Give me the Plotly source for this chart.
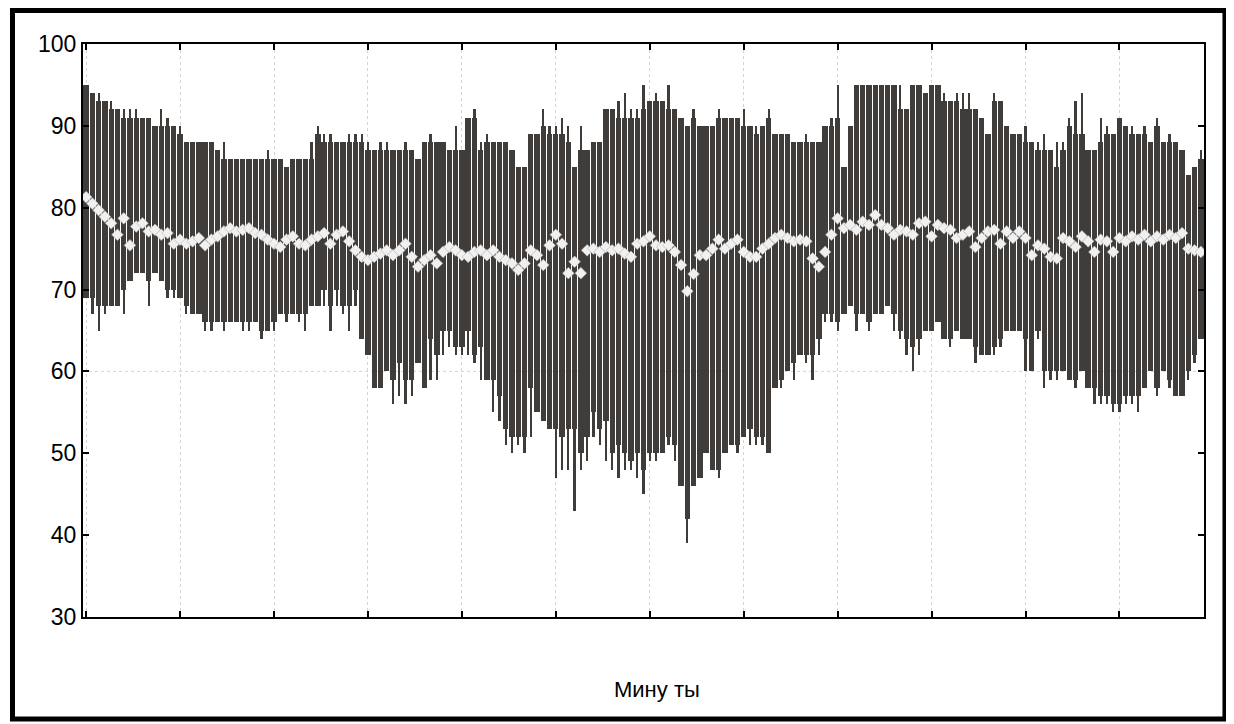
import plotly.graph_objects as go

# ---- data ----
box_high = [95,94,93,93,92,92,91,91,91,91,91,90,90,90,90,89,88,88,88,88,88,87,86,86,86,86,86,86,86,86,
            86,86,85,86,86,86,86,89,88,88,88,88,88,88,88,87,87,87,87,87,87,87,87,86,88,88,88,88,87,87,
            87,91,91,87,88,88,88,88,87,85,85,89,89,90,89,89,89,88,85,87,87,88,88,92,92,91,91,91,91,92,
            93,93,93,92,92,91,90,91,90,90,90,91,91,91,91,90,90,89,90,91,89,89,89,88,88,88,88,88,90,90,
            91,85,90,95,95,95,95,95,95,95,92,92,95,95,94,95,95,93,93,93,92,92,92,91,89,93,93,90,89,89,
            88,88,87,87,87,85,87,90,89,89,87,87,88,89,89,91,90,89,89,89,88,90,88,88,88,87,84,85,86]
whisker_high = [95,94,94,93,93,92,92,92,92,91,91,90,92,91,90,90,88,88,88,88,88,87,88,86,86,86,86,86,86,87,
                86,86,85,86,86,86,88,90,89,89,88,88,89,89,89,88,87,88,88,87,87,88,87,86,88,89,88,88,87,90,
                87,91,92,88,89,88,88,88,87,85,85,89,89,92,90,90,91,90,85,90,87,88,88,92,92,93,94,92,92,95,
                93,94,93,95,92,91,90,92,90,90,90,92,91,91,91,92,90,90,90,92,89,89,89,88,88,89,88,88,90,91,
                95,85,90,95,95,95,95,95,95,95,95,92,95,95,94,95,95,94,93,94,94,94,92,91,89,94,93,90,89,89,
                90,88,88,89,87,88,88,91,93,94,87,87,91,90,89,91,90,90,89,90,88,91,88,89,88,87,84,85,87]
box_low = [69,69,68,68,68,68,70,71,72,72,71,72,71,70,70,69,68,67,67,66,66,66,66,66,66,66,66,66,65,65,
           66,67,67,67,67,67,68,68,70,68,70,68,68,70,64,62,58,58,60,59,61,59,59,61,58,64,62,65,65,63,
           63,65,62,63,59,59,57,53,52,52,52,58,55,54,53,53,52,53,53,50,52,55,53,54,50,51,50,49,50,48,
           50,50,50,52,51,46,42,46,47,50,48,48,50,51,51,52,53,52,52,50,58,59,60,61,62,62,62,64,67,67,
           66,67,68,67,67,66,67,67,68,67,65,64,63,64,65,65,66,64,64,65,64,64,63,62,62,63,64,65,65,65,
           64,60,65,60,60,60,60,59,59,60,58,58,57,57,56,56,57,57,57,58,60,58,60,59,57,57,60,62,64]
whisker_low = [69,67,65,67,68,68,67,71,72,72,68,72,71,69,69,69,67,67,67,65,65,66,65,66,66,65,65,66,64,65,
               65,67,66,67,66,65,68,68,68,65,68,67,65,68,64,62,58,58,60,56,57,56,57,61,58,59,59,62,63,62,
               62,62,61,59,59,55,54,51,50,51,50,52,55,54,53,47,48,48,43,48,49,52,51,49,48,47,48,48,47,45,
               49,49,50,51,49,46,39,46,47,50,48,47,50,51,50,52,51,51,51,50,58,58,60,59,62,61,59,62,66,66,
               65,67,68,65,67,65,67,67,68,65,64,62,60,62,65,65,66,64,63,65,64,64,61,62,62,62,63,65,65,65,
               60,60,64,58,59,59,60,59,58,60,58,56,56,56,55,55,56,56,55,58,60,57,60,58,57,57,59,61,64]
mean = [81.3,80.5,79.7,78.9,78.1,76.7,78.7,75.4,77.7,78.1,77.1,77.3,76.7,76.9,75.6,76.1,75.6,75.9,76.3,75.4,
        76.1,76.5,77.1,77.5,77.1,77.3,77.5,76.9,76.7,76.1,75.6,75.2,76.1,76.5,75.6,75.4,76.1,76.5,76.9,75.6,
        76.7,77.1,75.9,74.8,74.0,73.6,74.0,74.4,74.8,74.2,74.8,75.6,74.0,72.8,73.6,74.2,73.2,74.6,75.2,74.8,
        74.2,74.0,74.6,74.8,74.2,74.8,74.0,73.6,73.2,72.4,73.2,74.8,74.2,73.0,75.4,76.7,75.6,72.0,73.4,72.0,
        74.8,75.0,74.6,75.2,74.8,75.0,74.4,74.0,75.6,75.9,76.5,75.4,75.2,75.4,74.6,73.0,69.8,71.9,74.2,74.2,
        75.0,76.1,75.0,75.6,76.1,74.6,74.0,74.0,75.0,75.6,76.3,76.7,76.3,75.9,76.1,75.9,73.8,72.8,74.6,76.7,
        78.7,77.5,77.9,77.3,78.3,77.9,79.1,77.9,77.5,76.7,77.3,77.1,76.7,78.1,78.3,76.5,77.9,77.5,77.3,76.3,
        76.7,77.1,75.2,76.3,77.1,77.3,75.6,77.1,76.3,77.1,76.3,74.2,75.4,75.0,74.0,73.8,76.3,75.9,75.2,76.5,
        75.9,74.6,76.1,75.9,74.6,76.3,75.9,76.5,76.1,76.7,75.9,76.5,76.1,76.7,76.3,76.9,75.0,74.8,74.6]
minutes = list(range(len(mean)))
x_tick_vals = list(range(0, 166, 15))
y_tick_vals = [30, 40, 50, 60, 70, 80, 90, 100]
visible_hgrid = 60
x_title = "Мину ты"

BAR = "#3f3c39"

fig = go.Figure()
fig.add_trace(go.Bar(
    x=minutes, y=[h - l for h, l in zip(whisker_high, whisker_low)], base=whisker_low,
    width=0.36, marker=dict(color=BAR, line=dict(width=0)), showlegend=False, hoverinfo="skip"))
fig.add_trace(go.Bar(
    x=minutes, y=[h - l for h, l in zip(box_high, box_low)], base=box_low,
    width=0.85, marker=dict(color=BAR, line=dict(width=0)), showlegend=False))
fig.add_trace(go.Scatter(
    x=minutes, y=mean, mode="markers", showlegend=False,
    marker=dict(symbol="diamond", size=9, color="#f0f0f0", line=dict(color="#b0b0b0", width=0.6))))

fig.update_layout(
    width=1226, height=716,
    margin=dict(l=75, r=30, t=36, b=107),
    paper_bgcolor="white", plot_bgcolor="white",
    barmode="overlay", bargap=0,
    font=dict(family="Liberation Sans, Arial, sans-serif", color="black"),
    showlegend=False,
)
fig.update_xaxes(
    range=[-0.5, len(mean) - 0.5], tickvals=x_tick_vals, showticklabels=False,
    ticks="inside", ticklen=6, tickwidth=2, tickcolor="black",
    showline=True, linecolor="black", linewidth=2, mirror="ticks",
    showgrid=True, gridcolor="#d4d4d4", griddash="dot", gridwidth=1, zeroline=False,
)
fig.update_yaxes(
    range=[30, 100], tickvals=y_tick_vals,
    ticks="inside", ticklen=6, tickwidth=2, tickcolor="black",
    tickfont=dict(size=23, color="black"),
    showline=True, linecolor="black", linewidth=2, mirror="ticks",
    showgrid=False, zeroline=False,
)
fig.add_shape(type="line", xref="paper", yref="y", x0=0, x1=1, y0=visible_hgrid, y1=visible_hgrid,
              line=dict(color="#d4d4d4", width=1, dash="dot"), layer="below")
fig.add_annotation(text=x_title, xref="paper", yref="paper", x=0.512, y=-0.127,
                   showarrow=False, font=dict(size=22, color="black"), xanchor="center", yanchor="middle")
# outer thick frame
fig.add_shape(type="rect", xref="paper", yref="paper",
              x0=-0.0629, x1=1.0187, y0=-0.178, y1=1.0585,
              line=dict(color="black", width=5), fillcolor="rgba(0,0,0,0)", layer="above")

fig.write_html("out.html")
